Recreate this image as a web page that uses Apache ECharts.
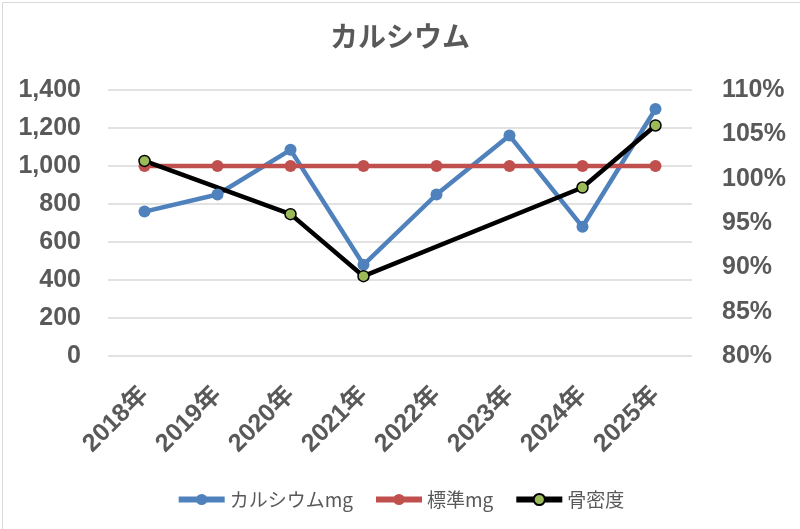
<!DOCTYPE html>
<html>
<head>
<meta charset="utf-8">
<script src="https://cdn.jsdelivr.net/npm/echarts@6/dist/echarts.min.js"></script>
<style>
html,body{margin:0;padding:0;background:#fff;}
#chart{width:800px;height:529px;}
</style>
</head>
<body>
<div id="chart"></div>
<script>
const categories = ['2018年','2019年','2020年','2021年','2022年','2023年','2024年','2025年'];
const calcium = [760, 850, 1085, 480, 850, 1160, 680, 1300];
const standard = [1000, 1000, 1000, 1000, 1000, 1000, 1000, 1000];
const boneDensity = [102, null, 96, 89, null, null, 99, 106];
const seriesNames = ['カルシウムmg', '標準mg', '骨密度'];
const titleText = 'カルシウム';

const FONT = "'Liberation Sans', 'Noto Sans CJK JP', sans-serif";
const chart = echarts.init(document.getElementById('chart'));
chart.setOption({
  animation: false,
  backgroundColor: '#fff',
  title: {
    text: titleText, left: 'center', top: 17,
    textStyle: {fontFamily: "'Noto Sans CJK JP', sans-serif", fontSize: 28, fontWeight: 'bold', color: '#595959'}
  },
  graphic: [{
    type: 'rect', left: 0, top: 0, silent: true,
    shape: {x: 0.5, y: 0.5, width: 799, height: 528},
    style: {fill: 'none', stroke: '#d9d9d9', lineWidth: 1}
  }],
  legend: {
    top: 485, left: 'center', itemWidth: 46, itemHeight: 14, itemGap: 20,
    lineStyle: {width: 6},
    textStyle: {fontFamily: "'Noto Sans CJK JP', sans-serif", fontSize: 19, color: '#595959'},
    data: seriesNames
  },
  grid: {left: 108, right: 108, top: 90, bottom: 173, containLabel: false},
  xAxis: {
    type: 'category', data: categories, boundaryGap: true,
    axisLine: {show: false}, axisTick: {show: false},
    axisLabel: {rotate: 45, fontFamily: FONT, fontSize: 25, fontWeight: 'bold', color: '#595959', margin: 35, interval: 0}
  },
  yAxis: [{
    type: 'value', min: 0, max: 1400, interval: 200,
    axisLine: {show: false}, axisTick: {show: false},
    splitLine: {lineStyle: {color: '#d9d9d9', width: 1.5}},
    axisLabel: {fontFamily: FONT, fontSize: 25, fontWeight: 'bold', color: '#595959', margin: 27,
      formatter: v => v.toLocaleString('en-US')}
  }, {
    type: 'value', min: 80, max: 110, interval: 5, position: 'right',
    axisLine: {show: false}, axisTick: {show: false}, splitLine: {show: false},
    axisLabel: {fontFamily: FONT, fontSize: 25, fontWeight: 'bold', color: '#595959', margin: 30,
      formatter: '{value}%'}
  }],
  series: [{
    name: seriesNames[0], type: 'line', data: calcium, yAxisIndex: 0,
    symbol: 'circle', symbolSize: 12,
    lineStyle: {color: '#4f81bd', width: 4.5}, itemStyle: {color: '#4f81bd'}
  }, {
    name: seriesNames[1], type: 'line', data: standard, yAxisIndex: 0,
    symbol: 'circle', symbolSize: 12,
    lineStyle: {color: '#c0504d', width: 4.5}, itemStyle: {color: '#c0504d'}
  }, {
    name: seriesNames[2], type: 'line', data: boneDensity, yAxisIndex: 1, connectNulls: true,
    symbol: 'circle', symbolSize: 11,
    lineStyle: {color: '#000', width: 4.5}, itemStyle: {color: '#9bbb59', borderColor: '#000', borderWidth: 1.5}
  }]
});
</script>
</body>
</html>
